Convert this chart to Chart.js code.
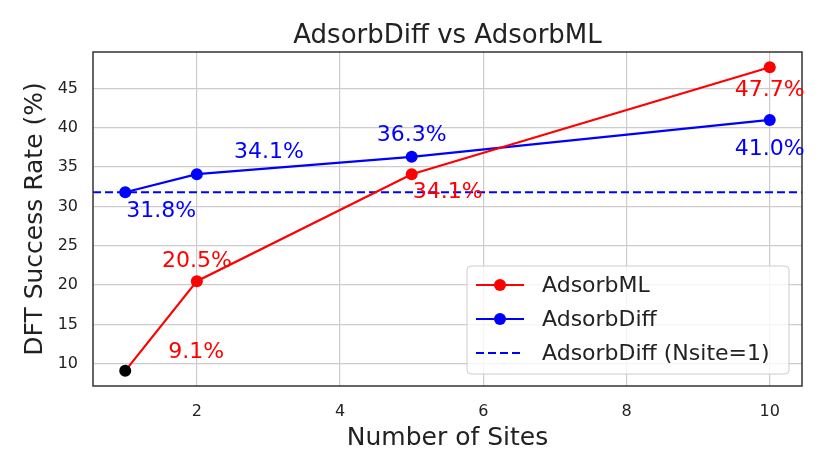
<!DOCTYPE html>
<html>
<head>
<meta charset="utf-8">
<script src="https://cdn.jsdelivr.net/npm/chart.js@4"></script>
<style>
  html, body { margin: 0; padding: 0; background: #fff; }
  #wrap { width: 830px; height: 475px; }
</style>
</head>
<body>
<div id="wrap"><canvas id="chart" width="830" height="475"></canvas></div>
<script>
// Daten
const sites = [1, 2, 5, 10];
const adsorbML = [9.1, 20.5, 34.1, 47.7];
const adsorbDiff = [31.8, 34.1, 36.3, 41.0];
const nsite1 = 31.8;
const xTicks = [2, 4, 6, 8, 10];
const yTicks = [10, 15, 20, 25, 30, 35, 40, 45];
const X_MIN = 0.55, X_MAX = 10.45;
const Y_MIN = 7.17, Y_MAX = 49.63;
const TITLE = "AdsorbDiff vs AdsorbML";

// Label-Versatz in Pixeln (dx, dy) pro Punkt
const mlOffsets = [[71, -19], [0, -20], [36, 18], [0, 23]];
const diffOffsets = [[36, 19], [72, -22], [0, -22], [0, 29]];

const FONT = "'DejaVu Sans', sans-serif";

// Rahmen um die Plotfläche + Titel (zentriert über der Plotfläche)
const frame = {
    id: "frame",
    afterDatasetsDraw(chart){
        const a = chart.chartArea, ctx = chart.ctx;
        ctx.save();
        ctx.strokeStyle = "#333";
        ctx.lineWidth = 1.5;
        ctx.strokeRect(a.left, a.top, a.right - a.left, a.bottom - a.top);
        ctx.fillStyle = "#222";
        ctx.font = "26px " + FONT;
        ctx.textAlign = "center";
        ctx.textBaseline = "alphabetic";
        ctx.fillText(TITLE, (a.left + a.right) / 2, a.top - 9);
        ctx.restore();
    }
};

// Prozent-Labels
const valueLabels = {
    id: "valueLabels",
    afterDatasetsDraw(chart){
        const ctx = chart.ctx;
        const xs = chart.scales.x, ys = chart.scales.y;
        ctx.save();
        ctx.font = "22px " + FONT;
        ctx.textAlign = "center";
        ctx.textBaseline = "middle";
        const draw = (vals, offs, color) => {
            ctx.fillStyle = color;
            vals.forEach((v, i) => {
                const px = xs.getPixelForValue(sites[i]) + offs[i][0];
                const py = ys.getPixelForValue(v) + offs[i][1];
                ctx.fillText(v.toFixed(1) + "%", px, py);
            });
        };
        draw(adsorbML, mlOffsets, "#ff0000");
        draw(adsorbDiff, diffOffsets, "#0000ff");
        ctx.restore();
    }
};

// Legende innerhalb der Plotfläche
const innerLegend = {
    id: "innerLegend",
    afterDraw(chart){
        const ctx = chart.ctx;
        const a = chart.chartArea;
        const w = 322, h = 108;
        const x0 = a.right - 13 - w, y0 = a.bottom - 12 - h;
        ctx.save();
        ctx.fillStyle = "rgba(255,255,255,0.8)";
        ctx.strokeStyle = "#cccccc";
        ctx.lineWidth = 1;
        ctx.beginPath();
        ctx.roundRect(x0, y0, w, h, 4);
        ctx.fill();
        ctx.stroke();
        ctx.font = "22px " + FONT;
        ctx.textBaseline = "middle";
        ctx.textAlign = "left";
        chart.data.datasets.forEach((ds, i) => {
            const yy = y0 + 19 + i * 34;
            ctx.strokeStyle = ds.borderColor;
            ctx.lineWidth = 2.2;
            ctx.setLineDash(ds.borderDash || []);
            ctx.beginPath();
            ctx.moveTo(x0 + 9, yy);
            ctx.lineTo(x0 + 57, yy);
            ctx.stroke();
            ctx.setLineDash([]);
            if(ds.pointRadius > 0){
                ctx.fillStyle = ds.borderColor;
                ctx.beginPath();
                ctx.arc(x0 + 33, yy, 6, 0, Math.PI * 2);
                ctx.fill();
            }
            ctx.fillStyle = "#222";
            ctx.fillText(ds.label, x0 + 75, yy + 1);
        });
        ctx.restore();
    }
};

new Chart(document.getElementById("chart"), {
    type: "line",
    data: {
        datasets: [
            {
                label: "AdsorbML",
                data: sites.map((s, i) => ({x: s, y: adsorbML[i]})),
                borderColor: "#ff0000",
                backgroundColor: "#ff0000",
                pointBackgroundColor: sites.map((s, i) => i === 0 ? "#000000" : "#ff0000"),
                pointBorderWidth: 0,
                pointRadius: 6,
                borderWidth: 2.2,
                tension: 0
            },
            {
                label: "AdsorbDiff",
                data: sites.map((s, i) => ({x: s, y: adsorbDiff[i]})),
                borderColor: "#0000ff",
                backgroundColor: "#0000ff",
                pointBorderWidth: 0,
                pointRadius: 6,
                borderWidth: 2.2,
                tension: 0
            },
            {
                label: "AdsorbDiff (Nsite=1)",
                data: [{x: X_MIN, y: nsite1}, {x: X_MAX, y: nsite1}],
                borderColor: "#0000ff",
                borderDash: [8, 4],
                borderWidth: 2.2,
                pointRadius: 0
            }
        ]
    },
    options: {
        responsive: false,
        animation: false,
        layout: { padding: { left: 0, right: 28, top: 52, bottom: 0 } },
        plugins: {
            legend: { display: false },
            tooltip: { enabled: false },
            title: { display: false }
        },
        scales: {
            x: {
                type: "linear",
                min: X_MIN,
                max: X_MAX,
                afterBuildTicks: s => { s.ticks = xTicks.map(v => ({value: v})); },
                afterFit: s => { s.height = 89; },
                grid: { color: "#cccccc", lineWidth: 1.2, drawTicks: false },
                border: { display: false },
                ticks: { color: "#222", padding: 16, font: { family: FONT, size: 16 } },
                title: {
                    display: true,
                    text: "Number of Sites",
                    color: "#222",
                    font: { family: FONT, size: 25 },
                    padding: { top: 0, bottom: 22 }
                }
            },
            y: {
                min: Y_MIN,
                max: Y_MAX,
                afterBuildTicks: s => { s.ticks = yTicks.map(v => ({value: v})); },
                afterFit: s => { s.width = 93; },
                grid: { color: "#cccccc", lineWidth: 1.2, drawTicks: false },
                border: { display: false },
                ticks: { color: "#222", padding: 15, font: { family: FONT, size: 16 } },
                title: {
                    display: true,
                    text: "DFT Success Rate (%)",
                    color: "#222",
                    font: { family: FONT, size: 25 },
                    padding: { top: 20, bottom: 0 }
                }
            }
        }
    },
    plugins: [frame, valueLabels, innerLegend]
});
</script>
</body>
</html>
